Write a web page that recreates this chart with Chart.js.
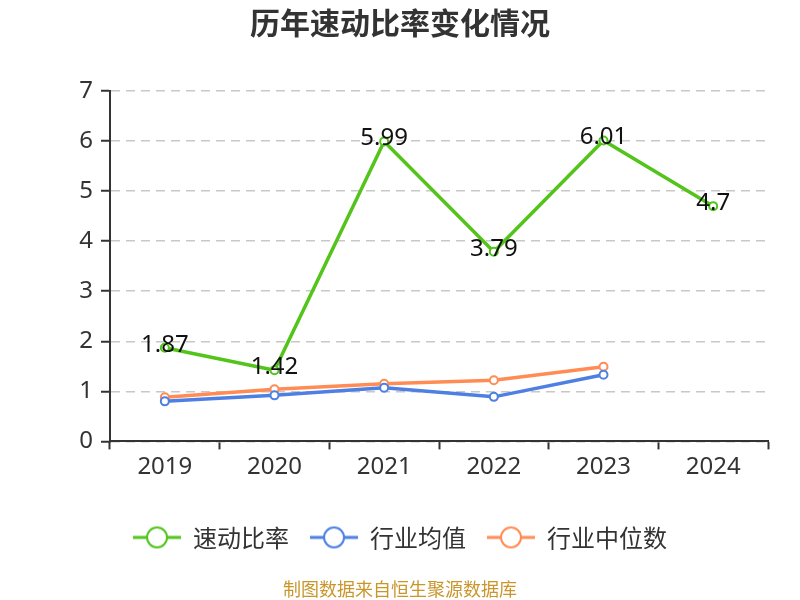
<!DOCTYPE html>
<html>
<head>
<meta charset="utf-8">
<script src="https://cdn.jsdelivr.net/npm/chart.js@4.4.1/dist/chart.umd.min.js"></script>
<style>
  html, body { margin: 0; padding: 0; background: #fff; }
  #wrap { width: 800px; height: 600px; }
</style>
</head>
<body>
<div id="wrap"><canvas id="c" width="800" height="600"></canvas></div>
<script>
const years = ['2019', '2020', '2021', '2022', '2023', '2024'];
const quickRatio = [1.87, 1.42, 5.99, 3.79, 6.01, 4.7];
const industryAvg = [0.80, 0.92, 1.07, 0.89, 1.33, null];
const industryMedian = [0.88, 1.04, 1.15, 1.22, 1.49, null];
const seriesNames = ['速动比率', '行业均值', '行业中位数'];
const seriesColors = ['#52c41a', '#4e7fe3', '#ff8c55'];
const yTicks = [0, 1, 2, 3, 4, 5, 6, 7];
const titleText = '历年速动比率变化情况';
const sourceText = '制图数据来自恒生聚源数据库';

const FONT = "'Noto Sans', 'Noto Sans CJK SC', sans-serif";

function legendIcon(color) {
  const cv = document.createElement('canvas');
  cv.width = 48; cv.height = 26;
  const g = cv.getContext('2d');
  g.strokeStyle = color;
  g.lineWidth = 3;
  g.beginPath(); g.moveTo(0, 13); g.lineTo(48, 13); g.stroke();
  g.beginPath(); g.arc(24, 13, 10, 0, Math.PI * 2);
  g.fillStyle = '#fff'; g.fill();
  g.lineWidth = 2; g.stroke();
  return cv;
}
const icons = seriesColors.map(legendIcon);

const valueLabels = {
  id: 'valueLabels',
  afterDatasetsDraw(chart) {
    const meta = chart.getDatasetMeta(0);
    const ctx = chart.ctx;
    ctx.save();
    ctx.font = '24px ' + FONT;
    ctx.fillStyle = '#111';
    ctx.textAlign = 'center';
    ctx.textBaseline = 'middle';
    meta.data.forEach((el, i) => {
      const v = chart.data.datasets[0].data[i];
      if (v == null) return;
      ctx.fillText(String(v), el.x, el.y - 3);
    });
    ctx.restore();
  }
};

const mkDs = (label, data, color) => ({
  label, data,
  borderColor: color,
  backgroundColor: '#fff',
  borderWidth: 3.5,
  pointRadius: 4,
  pointBorderWidth: 2,
  pointBackgroundColor: '#fff',
  pointBorderColor: color,
  tension: 0,
  spanGaps: false
});

new Chart(document.getElementById('c'), {
  type: 'line',
  data: {
    labels: years,
    datasets: [
      mkDs(seriesNames[0], quickRatio, seriesColors[0]),
      mkDs(seriesNames[1], industryAvg, seriesColors[1]),
      mkDs(seriesNames[2], industryMedian, seriesColors[2])
    ]
  },
  options: {
    responsive: false,
    animation: false,
    devicePixelRatio: 1,
    layout: { padding: 0 },
    scales: {
      x: {
        type: 'category',
        offset: true,
        grid: { offset: true, drawOnChartArea: false, drawTicks: true, tickLength: 8, tickColor: '#333', tickWidth: 2 },
        border: { display: true, color: '#333', width: 2 },
        ticks: { color: '#333', font: { size: 24, family: FONT }, padding: 3, maxRotation: 0, autoSkip: false },
        afterFit(s) { s.height = 63; }
      },
      y: {
        min: 0, max: 7,
        afterBuildTicks(s) { s.ticks = yTicks.map(v => ({ value: v })); },
        grid: { color: '#c8c8c8', lineWidth: 1.5, drawTicks: true, tickLength: 9, tickColor: '#333', tickWidth: 2, tickBorderDash: [] },
        border: { display: true, color: '#333', width: 2, dash: [9, 6] },
        ticks: { color: '#333', font: { size: 24, family: FONT }, padding: 8 },
        afterFit(s) { s.width = 110; }
      },
      yR: {
        position: 'right',
        display: true,
        grid: { display: false, drawTicks: false },
        border: { display: false },
        ticks: { display: false },
        afterFit(s) { s.width = 32; }
      }
    },
    plugins: {
      title: {
        display: true,
        text: titleText,
        color: '#333',
        font: { size: 30, weight: 'bold', family: "'Noto Sans CJK SC', sans-serif" },
        padding: { top: 5, bottom: 50 }
      },
      subtitle: {
        display: true,
        position: 'bottom',
        text: sourceText,
        color: '#c9962c',
        font: { size: 18, family: "'Noto Sans CJK SC', sans-serif" },
        padding: { top: 19, bottom: 0 }
      },
      legend: {
        display: true,
        position: 'bottom',
        labels: {
          usePointStyle: true,
          pointStyleWidth: 48,
          padding: 21,
          color: '#333',
          font: { size: 24, family: "'Noto Sans CJK SC', sans-serif" },
          generateLabels(chart) {
            return chart.data.datasets.map((ds, i) => ({
              text: ds.label,
              fillStyle: '#fff',
              strokeStyle: seriesColors[i],
              lineWidth: 0,
              pointStyle: icons[i],
              fontColor: '#333',
              hidden: false,
              datasetIndex: i
            }));
          }
        }
      },
      tooltip: { enabled: false }
    }
  },
  plugins: [valueLabels]
});
</script>
</body>
</html>
